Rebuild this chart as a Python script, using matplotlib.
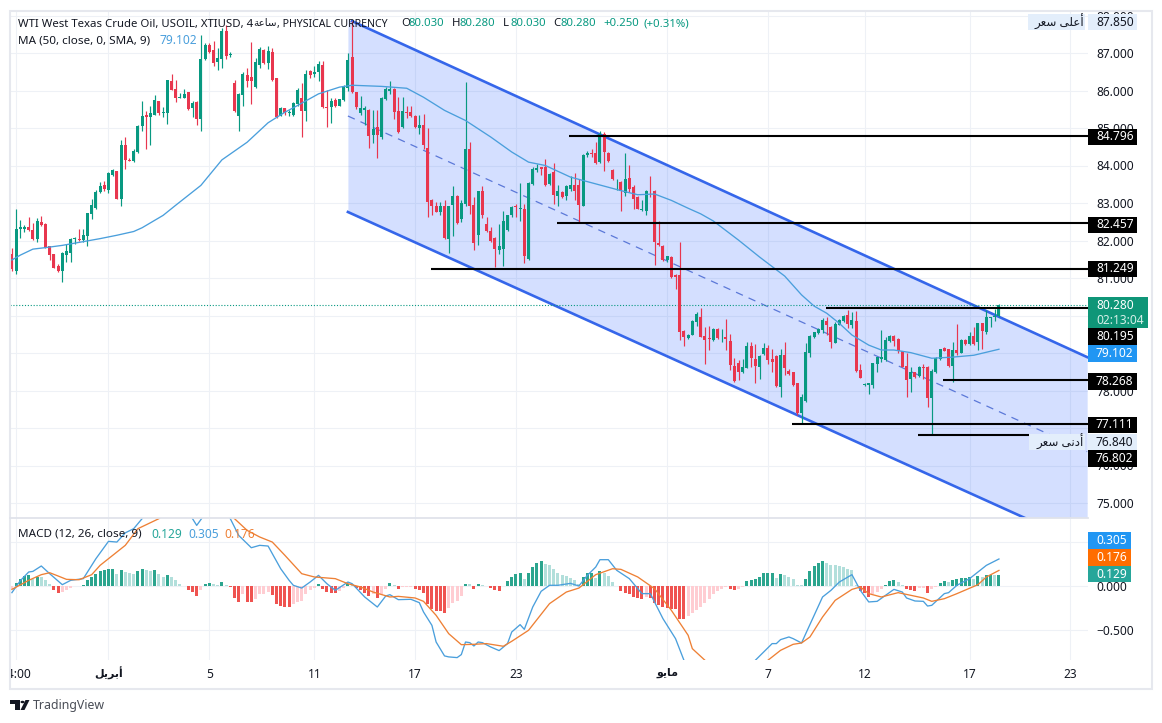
import matplotlib
matplotlib.use('Agg')
import matplotlib.pyplot as plt
from matplotlib.patches import Rectangle, Circle, Polygon
from matplotlib.transforms import Bbox, TransformedBbox

plt.rcParams['font.family'] = ['Noto Sans', 'DejaVu Sans']

W, H = 1162, 723

# candles, 4h bars
opens = [81.64,81.19,82.32,82.32,82.37,82.28,82.05,82.50,82.43,81.84,81.64,81.33,81.19,81.61,81.68,82.05,82.05,82.02,82.12,82.70,
 82.88,83.30,83.49,83.35,83.76,83.85,83.10,84.54,84.16,84.12,84.36,85.05,85.34,85.30,85.36,85.73,85.39,85.39,86.26,86.04,
 85.80,85.79,85.95,85.54,85.69,85.23,86.84,87.22,87.07,86.75,86.84,87.60,86.96,86.20,85.32,85.87,86.40,86.36,86.10,86.69,
 87.09,86.73,87.03,86.34,85.32,85.54,85.40,85.36,85.63,85.80,85.45,86.53,86.45,86.49,86.69,85.55,85.56,85.74,85.58,85.76,
 86.07,86.89,85.97,85.40,85.47,85.49,84.82,85.02,84.76,85.78,86.00,86.04,85.46,85.02,85.42,85.44,85.31,84.99,85.09,84.47,
 83.07,82.91,82.77,82.93,82.04,82.95,83.20,82.58,82.98,84.44,82.95,82.16,83.31,82.44,82.25,82.06,81.75,81.78,82.28,82.67,
 82.93,82.84,82.84,81.51,83.51,83.87,83.96,83.96,83.51,83.82,83.20,83.29,83.19,83.38,83.47,83.49,82.93,84.28,84.34,84.34,
 84.09,84.84,84.34,83.89,83.58,83.57,83.27,83.67,83.42,83.17,82.82,82.80,83.33,83.33,81.94,81.85,81.47,81.57,81.07,81.08,
 79.60,79.40,79.48,79.82,79.95,79.44,79.39,79.35,79.64,79.39,79.44,79.33,78.65,78.74,78.50,78.61,79.19,78.84,78.62,78.97,
 79.12,78.84,78.92,78.10,78.95,78.53,78.48,78.19,77.41,77.73,79.01,79.42,79.53,79.61,79.85,79.70,79.28,79.76,79.86,80.02,
 79.75,79.84,78.55,78.15,78.14,78.15,78.71,78.83,78.81,79.33,79.46,79.37,79.06,78.65,78.31,78.48,78.39,78.64,78.64,77.81,
 78.50,78.83,79.14,79.11,78.65,79.08,79.01,79.35,79.24,79.44,79.30,79.79,79.55,79.93,79.97,79.99]
closes = [81.24,82.32,82.35,82.37,82.28,82.04,82.53,82.41,81.81,81.61,81.28,81.19,81.66,81.73,82.05,82.07,82.02,82.14,82.73,82.94,
 83.30,83.44,83.37,83.79,83.88,83.10,84.54,84.16,84.13,84.38,85.05,85.32,85.30,85.40,85.74,85.39,85.42,86.29,86.02,85.79,
 85.84,85.92,85.51,85.67,85.23,86.84,87.22,87.02,86.73,86.87,87.60,86.93,86.97,85.45,85.92,86.45,86.25,86.25,86.75,87.12,
 86.73,87.04,86.27,85.30,85.54,85.40,85.42,85.67,86.01,85.45,86.45,86.42,86.49,86.72,85.55,85.54,85.71,85.60,85.76,86.11,
 86.82,85.96,85.56,85.53,85.53,84.80,84.98,84.82,85.80,86.04,86.03,85.44,84.89,85.45,85.40,85.31,85.02,85.07,84.55,83.02,
 82.93,82.77,82.92,82.06,82.92,83.20,82.46,83.00,84.44,82.93,81.94,83.31,82.67,82.25,82.00,81.78,81.85,82.51,82.67,82.89,
 82.89,82.86,81.60,83.54,83.91,83.94,83.91,83.48,83.78,83.22,83.32,83.17,83.45,83.47,83.33,82.95,84.28,84.34,84.32,84.07,
 84.83,84.36,84.13,83.64,83.60,83.31,83.64,83.38,83.11,82.84,82.84,83.33,83.32,81.96,81.87,81.47,81.58,81.02,81.02,79.57,
 79.42,79.49,79.85,80.03,79.44,79.35,79.37,79.64,79.39,79.41,79.37,78.68,78.26,78.50,78.62,79.19,78.88,78.65,78.92,79.12,
 78.81,78.77,78.13,78.95,78.59,78.44,78.15,77.39,77.82,79.02,79.46,79.55,79.64,79.88,79.75,79.30,79.77,79.88,79.99,79.77,
 79.88,78.53,78.34,78.18,78.19,78.74,78.89,78.89,79.35,79.46,79.33,79.04,78.64,78.28,78.50,78.35,78.62,78.59,77.81,78.53,
 78.86,79.11,79.06,78.65,79.08,79.00,79.35,79.24,79.44,79.24,79.79,79.60,79.95,79.95,79.99,80.28]
highs = [81.81,82.83,82.55,82.41,82.63,82.48,82.61,82.66,82.48,81.84,81.64,81.37,81.70,81.90,82.07,82.09,82.30,82.30,82.74,83.10,
 83.35,83.56,83.59,83.83,83.90,83.85,84.68,84.77,84.20,84.43,85.07,85.71,85.45,85.58,85.87,85.73,85.56,86.29,86.44,86.29,
 85.94,86.04,85.97,85.71,85.71,87.49,87.27,87.27,87.31,87.13,87.66,87.75,87.02,86.29,85.94,86.49,86.60,87.29,86.87,87.15,
 87.11,87.18,87.13,86.34,85.56,85.54,85.49,85.69,86.07,86.20,86.56,86.54,86.65,86.78,86.80,86.01,85.80,85.80,85.76,86.16,
 87.00,87.85,85.97,85.85,85.60,85.51,85.47,85.47,85.82,86.09,86.25,86.06,85.82,85.82,85.60,85.60,85.35,85.35,85.38,84.99,
 83.11,83.02,83.02,83.07,82.93,83.45,83.22,83.07,86.22,84.64,83.16,83.33,83.45,82.62,82.36,82.09,82.44,82.78,82.69,82.92,
 82.98,83.54,82.98,83.56,83.96,84.04,83.97,84.18,83.80,84.06,83.49,83.33,83.47,83.73,83.80,83.64,84.31,84.40,84.44,84.64,
 84.92,84.89,84.36,83.91,83.63,83.60,84.34,84.02,83.47,83.18,83.07,83.36,83.71,83.35,82.53,81.87,81.60,81.58,81.11,81.96,
 79.62,79.51,79.87,80.09,80.19,79.70,79.73,79.66,79.66,79.63,79.90,79.52,78.86,78.81,78.83,79.30,79.30,79.23,78.95,79.26,
 79.21,79.10,78.95,79.12,79.29,78.57,78.49,78.19,77.92,79.26,79.48,79.57,79.66,79.94,79.97,79.72,79.84,79.90,80.02,80.15,
 80.10,80.12,78.71,78.19,78.21,78.74,78.90,79.61,79.42,79.48,79.48,79.39,79.06,79.01,78.62,78.50,78.65,78.72,78.65,78.57,
 78.89,79.12,79.17,79.12,79.30,79.77,79.37,79.37,79.57,79.70,79.81,79.79,80.15,79.97,80.17,80.31]
lows = [81.19,81.10,82.07,82.23,82.26,82.02,81.97,82.39,81.79,81.49,81.26,81.17,80.89,81.42,81.42,81.92,81.99,81.95,81.86,82.57,
 82.83,83.28,83.32,83.28,83.72,83.10,82.92,83.90,84.11,84.10,84.34,84.92,84.43,84.54,85.34,85.36,85.30,85.12,86.01,85.70,
 85.79,85.79,85.48,85.30,85.09,84.92,86.82,87.00,86.65,86.56,86.60,86.84,86.89,85.43,84.92,85.58,86.10,85.63,86.07,86.60,
 86.72,86.58,86.26,85.27,85.32,85.36,85.32,85.32,85.58,84.77,85.18,86.34,86.36,86.25,85.54,85.02,85.14,85.56,85.58,85.73,
 85.98,85.94,85.51,85.36,85.07,84.47,84.60,84.20,84.71,85.76,85.91,85.24,84.87,85.00,85.26,85.29,85.00,84.84,84.44,82.64,
 82.68,82.76,82.68,82.04,81.67,82.11,82.44,82.49,82.93,82.71,81.75,81.88,82.60,82.22,81.97,81.29,81.64,81.33,82.25,82.62,
 82.64,82.51,81.40,81.49,83.49,83.82,83.75,83.45,83.47,82.98,82.93,83.14,83.07,83.33,83.08,82.49,82.91,84.22,84.22,84.04,
 84.07,83.85,84.09,83.62,83.36,82.80,83.20,83.29,82.84,82.83,82.80,82.67,83.16,81.36,81.85,81.45,81.44,80.99,80.71,79.36,
 79.20,79.38,79.47,79.73,79.42,78.72,79.08,79.32,79.37,79.30,79.08,78.55,78.24,78.28,78.46,78.59,78.62,78.19,78.32,78.95,
 78.72,78.50,78.10,77.82,78.41,78.41,78.12,77.35,77.12,77.70,78.89,79.39,79.51,79.53,79.48,79.14,79.26,79.74,79.84,79.66,
 79.66,78.50,78.33,78.12,77.91,78.08,78.50,78.77,78.80,79.30,79.20,79.01,78.62,77.84,77.97,78.33,78.35,78.32,77.57,76.84,
 78.48,78.81,79.05,78.62,78.24,78.95,78.99,79.22,79.22,79.21,79.08,79.12,79.52,79.70,79.85,79.97]

# MA (50) line, read at these bars
ma_bars = [0,2,5,8,12,16,21,25,29,31,36,39,45,50,56,61,65,68,73,78,81,88,94,98,103,108,114,119,123,127,133,139,145,149,153,157,161,164,167,173,178,184,188,191,194,197,200,204,207,210,214,219,224,229,235]
ma_vals = [81.48,81.61,81.77,81.81,81.87,81.95,82.05,82.14,82.24,82.34,82.67,82.94,83.47,84.15,84.62,85.14,85.42,85.60,85.91,86.09,86.14,86.11,86.06,85.82,85.47,85.20,84.76,84.36,84.09,84.00,83.69,83.51,83.33,83.22,83.24,83.07,82.86,82.71,82.52,82.01,81.56,81.05,80.55,80.25,80.06,79.79,79.48,79.21,79.08,79.08,79.01,78.86,78.89,78.94,79.10]

# MACD pane
hist = [-.03,.038,.083,.113,.12,.083,.105,.102,.064,.023,-.049,-.075,-.064,-.045,-.019,-.004,.004,.011,.064,.102,
 .139,.169,.18,.188,.189,.139,.177,.162,.15,.139,.165,.188,.177,.169,.177,.132,.105,.12,.102,.064,
 .026,.004,-.049,-.068,-.113,-.045,.023,.034,.019,.011,.049,.015,-.011,-.132,-.18,-.094,-.18,-.181,-.143,-.094,
 -.093,-.068,-.102,-.199,-.226,-.237,-.238,-.207,-.18,-.169,-.094,-.045,-.026,.026,-.038,-.068,-.083,-.084,-.056,-.019,
 .019,.011,-.019,-.045,-.083,-.113,-.094,-.132,-.094,-.038,.03,.008,-.038,-.015,-.011,-.01,-.038,-.045,-.075,-.207,
 -.256,-.282,-.283,-.308,-.244,-.188,-.169,-.113,.026,.023,-.03,.026,.011,-.004,-.019,-.045,-.056,.004,.056,.102,
 .132,.143,.075,.15,.218,.263,.282,.244,.233,.188,.15,.124,.113,.094,.068,.019,.102,.143,.144,.094,
 .169,.15,.113,.045,.004,-.053,-.075,-.094,-.12,-.139,-.15,-.124,-.132,-.196,-.218,-.233,-.244,-.256,-.263,-.368,
 -.376,-.338,-.308,-.271,-.233,-.196,-.15,-.094,-.056,-.03,-.008,-.03,-.045,-.03,-.015,.056,.068,.075,.105,.143,
 .144,.145,.094,.139,.12,.105,.083,.015,.011,.083,.169,.226,.256,.278,.263,.233,.232,.226,.218,.188,
 .177,.011,-.056,-.083,-.12,-.094,-.068,-.038,.008,.053,.064,.045,.011,-.038,-.049,-.06,-.026,-.025,-.075,-.03,
 -.011,.038,.056,.049,.071,.075,.09,.094,.102,.083,.113,.102,.124,.125,.12,.129]

macd_bars = [0,2,4,5,7,9,12,14,17,18,20,23,25,27,29,31,34,37,40,43,44,45,48,50,52,54,57,59,61,62,64,66,67,69,71,73,75,77,80,81,84,87,89,90,92,95,97,98,100,101,103,104,106,107,108,109,110,111,112,114,116,118,119,121,122,124,126,128,130,133,135,137,139,140,142,144,147,150,152,155,158,160,163,168,173,177,181,182,183,185,186,188,189,191,193,195,197,200,202,204,206,208,210,212,213,215,217,218,219,222,223,225,228,230,232,235]
macd_vals = [-.075,.06,.158,.165,.226,.139,.015,.064,.083,.158,.308,.504,.496,.60,.647,.76,.95,1.1,1.05,.76,.684,.75,.95,.9,.76,.571,.432,.459,.451,.365,.195,.064,.008,-.023,.045,.12,.026,-.049,.045,.026,-.124,-.237,-.113,-.098,-.154,-.15,-.188,-.293,-.444,-.632,-.789,-.80,-.808,-.774,-.632,-.639,-.677,-.632,-.639,-.688,-.729,-.65,-.519,-.436,-.489,-.237,-.06,.008,.008,.03,0,.12,.214,.297,.297,.177,.083,-.086,-.086,-.368,-.594,-.838,-1.1,-1.25,-1.05,-.838,-.65,-.65,-.605,-.575,-.594,-.643,-.538,-.331,-.124,-.049,.045,.128,-.049,-.18,-.173,-.105,-.038,-.068,-.135,-.169,-.173,-.226,-.218,-.086,-.075,.008,.083,.158,.233,.305]
signal_bars = [0,4,7,9,11,13,16,19,21,24,27,30,35,40,46,50,53,56,59,62,65,69,72,77,80,83,86,90,92,96,98,101,104,107,110,113,117,119,123,128,132,135,139,143,145,149,153,157,161,162,165,172,180,183,186,188,190,193,196,200,202,204,207,211,214,217,219,222,225,230,232,235]
signal_vals = [-.038,.064,.128,.15,.113,.075,.071,.128,.233,.346,.459,.647,.76,.98,1.05,.92,.76,.628,.553,.496,.346,.139,.102,.083,.026,-.011,-.068,-.124,-.117,-.135,-.173,-.331,-.538,-.662,-.658,-.65,-.68,-.624,-.5,-.199,-.068,-.023,.128,.195,.188,.102,-.03,-.274,-.556,-.707,-.838,-1.1,-.838,-.726,-.658,-.643,-.575,-.35,-.162,-.038,-.011,-.086,-.124,-.075,-.105,-.135,-.173,-.143,-.086,.015,.102,.176]

# drawn objects: channel and the support/resistance levels
channel_bars = [80, 256]
channel_upper = [87.90, 78.89]
channel_mid = [85.32, 76.37]
channel_lower = [82.76, 73.85]
level_prices = [84.796, 82.457, 81.249, 80.195, 78.268, 77.111, 76.802]
level_starts = [132.7, 129.8, 99.8, 193.8, 221.7, 185.7, 215.7]
level_ends = [256.2, 256.2, 256.2, 256.2, 256.2, 256.2, 242.2]

date_bars = [1, 23, 47, 72, 96, 120, 156, 180, 203, 228, 252]
date_labels = ['14:00', '\ufede\ufef3\ufeae\ufe91\ufe83', '5', '11', '17', '23',
               '\ufeee\ufef3\ufe8e\ufee3', '7', '12', '17', '23']
price_ticks = list(range(75, 89))
# these sit fully behind a price box in the reference
hidden_ticks = [80, 79, 77]
macd_ticks = [-0.5, 0.0, 0.5]

UP = '#089981'
DOWN = '#e8364e'
TEXT = '#131722'
GRID = '#eef1f6'
BLUE = '#3566ea'
HIGH_BG = '#e3eefb'

fig = plt.figure(figsize=(W / 100, H / 100), dpi=100, facecolor='white')


def pane(left, top, right, bottom):
    return fig.add_axes([left / W, 1 - bottom / H, (right - left) / W, (bottom - top) / H])


ax = pane(10, 11, 1088, 518)
ax2 = pane(10, 518, 1088, 660)
xlim = (-0.45, 256.2)
pane_clip = TransformedBbox(Bbox([[10 / W, 0], [1, 1 - 10 / H]]), fig.transFigure)

# main pane
ax.set_xlim(xlim)
ax.set_ylim(74.6, 88.12)
ax.set_axisbelow(True)
ax.grid(True, color=GRID, lw=0.8)
ax.yaxis.tick_right()
ax.set_yticks(price_ticks, ['' if p in hidden_ticks else '%.3f' % p for p in price_ticks])
ax.set_xticks(date_bars, [])
ax.tick_params(length=0)
ax.tick_params(axis='y', pad=5.8, labelsize=8.6, labelcolor=TEXT)
for lab in ax.get_yticklabels():
    lab.set_clip_box(pane_clip)
    lab.set_clip_on(True)

ax.fill_between(channel_bars, channel_upper, channel_lower, color='#2962ff', alpha=0.2, lw=0, zorder=1)
ax.plot([81, 256], [87.85, channel_upper[1]], color=BLUE, lw=1.9, zorder=2)
ax.plot(channel_bars, channel_lower, color=BLUE, lw=1.9, zorder=2)
ax.plot(channel_bars, channel_mid, color='#5b78d8', lw=0.9, dashes=(6, 5), zorder=2)

ax.axhline(80.28, color=UP, lw=0.8, ls=(0, (1, 1.6)), zorder=2)

bars = list(range(len(closes)))
colors = [UP if c >= o else DOWN for o, c in zip(opens, closes)]
ax.vlines(bars, lows, highs, colors=colors, lw=0.85, zorder=3)
ax.bar(bars, [abs(c - o) for o, c in zip(opens, closes)], bottom=[min(o, c) for o, c in zip(opens, closes)],
       width=0.72, color=colors, lw=0, zorder=3)

ax.plot(ma_bars, ma_vals, color='#4a9fdc', lw=0.95, zorder=4)
ax.hlines(level_prices, level_starts, level_ends, color='black', lw=1.5, zorder=5)

# macd pane
ax2.set_xlim(xlim)
ax2.set_ylim(-0.835, 0.7675)
ax2.set_axisbelow(True)
ax2.grid(True, color=GRID, lw=0.8)
ax2.yaxis.tick_right()
ax2.set_yticks(macd_ticks, ['\u22120.500', '0.000', ''])
ax2.set_xticks(date_bars, date_labels)
ax2.tick_params(length=0)
ax2.tick_params(axis='y', pad=5.8, labelsize=8.6, labelcolor=TEXT)
ax2.tick_params(axis='x', pad=5.5, labelsize=8.6, labelcolor=TEXT)
for lab in ax2.get_xticklabels():
    lab.set_clip_box(pane_clip)
    lab.set_clip_on(True)
for k in (1, 6):
    ax2.get_xticklabels()[k].set_fontweight('bold')
    ax2.get_xticklabels()[k].set_fontsize(8)

hist_colors = []
for k, v in enumerate(hist):
    prev = hist[k - 1] if k else v
    if v >= 0:
        hist_colors.append('#2ba58e' if v >= prev else '#b2dfdb')
    else:
        hist_colors.append('#ef5350' if v < prev else '#ffcdd2')
ax2.bar(bars, hist, width=0.72, color=hist_colors, lw=0, zorder=2)
ax2.plot(macd_bars, macd_vals, color='#4a9fdc', lw=0.95, zorder=3)
ax2.plot(signal_bars, signal_vals, color='#ee8035', lw=0.95, zorder=4)

for a in (ax, ax2):
    for s in a.spines.values():
        s.set_visible(False)


def txt(x, y, s, color=TEXT, size=8.6, ha='left', **kw):
    fig.text(x / W, 1 - y / H, s, color=color, fontsize=size, ha=ha, va='center', zorder=12, **kw)


def box(x0, y0, x1, y1, color):
    fig.add_artist(Rectangle((x0 / W, 1 - y1 / H), (x1 - x0) / W, (y1 - y0) / H, transform=fig.transFigure,
                             facecolor=color, edgecolor='none', zorder=10))


def price_box(y0, y1, s, bg='black', fg='white', x1=1137, **kw):
    box(1088, y0, x1, y1, bg)
    txt(1096, (y0 + y1) / 2, s, color=fg, **kw)


# price axis labels
price_box(14, 30, '87.850', bg=HIGH_BG, fg=TEXT)
box(1028, 14, 1085, 30, HIGH_BG)
txt(1084, 22, '\ufeae\ufecc\ufeb3 \ufef0\ufee0\ufecb\ufe83', ha='right')
price_box(129, 145, '84.796', fontweight='bold')
price_box(217, 233, '82.457', fontweight='bold')
price_box(261, 277, '81.249', fontweight='bold')
box(1088, 297, 1148, 328, '#0f9678')
txt(1096, 305, '80.280', color='white', fontweight='bold')
txt(1096, 320, '02:13:04', color='#d4efe8')
price_box(328, 345, '80.195', fontweight='bold')
price_box(345, 362, '79.102', bg='#2196f3', fontweight='bold')
price_box(373, 390, '78.268', fontweight='bold')
price_box(417, 433, '77.111', fontweight='bold')
price_box(434, 450, '76.840', bg=HIGH_BG, fg=TEXT)
box(1029, 434, 1085, 450, HIGH_BG)
txt(1084, 442, '\ufeae\ufecc\ufeb3 \ufef0\ufee7\ufea9\ufe83', ha='right')
price_box(450, 467, '76.802', fontweight='bold')

# macd axis labels
price_box(532, 549, '0.305', bg='#2196f3', x1=1131, fontweight='bold')
price_box(549, 566, '0.176', bg='#ff6d00', x1=1131, fontweight='bold')
price_box(566, 582, '0.129', bg='#26a69a', x1=1131, fontweight='bold')

# legends
txt(18, 24, 'WTI West Texas Crude Oil, USOIL, XTIUSD, 4', size=8.2)
txt(253, 24, '\ufe94\ufecb\ufe8e\ufeb3', size=7.5)
txt(277, 24, ', PHYSICAL CURRENCY', size=7.6)
for x, lab, val in [(401, 'O', '80.030'), (452, 'H', '80.280'), (503, 'L', '80.030'), (553, 'C', '80.280')]:
    txt(x, 24, lab, size=8.2)
    txt(x + 7.5, 24, val, color=UP, size=8.2)
txt(603, 24, '+0.250', color=UP, size=8.2)
txt(643, 24, '(+0.31%)', color=UP, size=8.2)
txt(18, 41, 'MA (50, close, 0, SMA, 9)', size=8.4)
txt(159, 41, '79.102', color='#4a9fdc')
txt(18, 534, 'MACD (12, 26, close, 9)', size=8.4)
txt(151, 534, '0.129', color='#26a69a')
txt(188, 534, '0.305', color='#4a9fdc')
txt(224, 534, '0.176', color='#ee8035')

# widget frame
fig.add_artist(Rectangle((10 / W, 1 - 688.5 / H), 1142 / W, 678 / H, transform=fig.transFigure,
                         fill=False, edgecolor='#e6e8ee', lw=1.5, zorder=9))
fig.add_artist(plt.Line2D([10 / W, 1088 / W], [1 - 518 / H] * 2, color='#e0e3eb', lw=1.3, zorder=9))

# logo
def to_fig(points):
    return [(x / W, 1 - y / H) for x, y in points]


logo = '#131722'
fig.add_artist(Polygon(to_fig([(10, 700), (20, 700), (20, 710), (15, 710), (15, 704), (10, 704)]),
                       transform=fig.transFigure, facecolor=logo, edgecolor='none'))
fig.add_artist(Polygon(to_fig([(25.5, 700), (29.5, 700), (24.5, 710), (20.5, 710)]),
                       transform=fig.transFigure, facecolor=logo, edgecolor='none'))
fig.add_artist(Circle((22.5 / W, 1 - 702 / H), 2 / W, transform=fig.transFigure, facecolor=logo, edgecolor='none'))
txt(33, 705, 'TradingView', color='#4a4e57', size=8.9)

fig.savefig('out.png', dpi=100, facecolor='white')
